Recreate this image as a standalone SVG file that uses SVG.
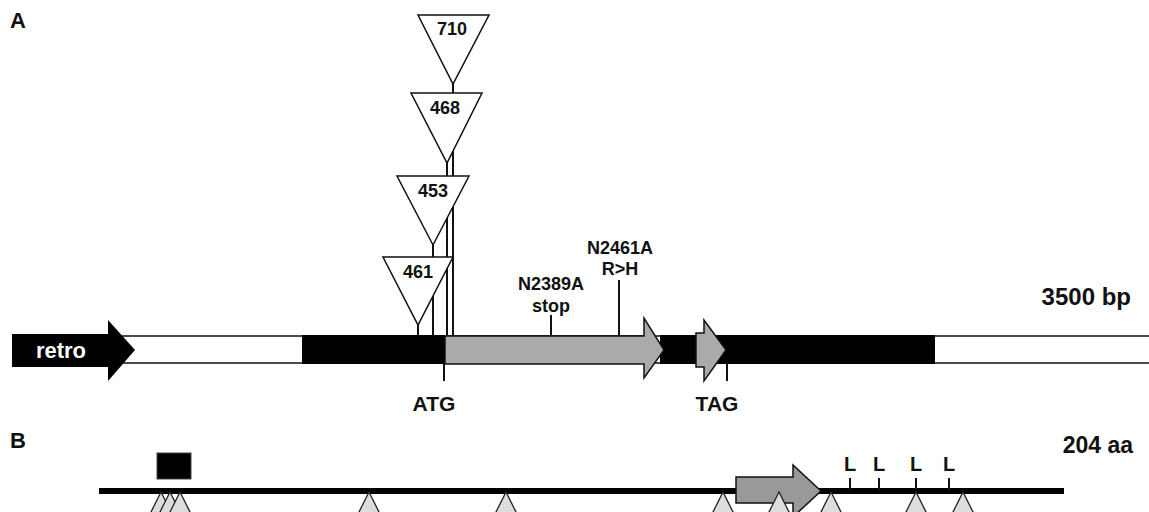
<svg xmlns="http://www.w3.org/2000/svg" width="1149" height="512" viewBox="0 0 1149 512">
<style>
text{font-family:"Liberation Sans",Arial,sans-serif;font-weight:bold;fill:#111;}
.num{font-size:18px;text-anchor:middle;}
.big{font-size:21px;text-anchor:middle;}
.mid{text-anchor:middle;}
.tri{fill:#fff;stroke:#111;stroke-width:1.5;}
.tick{stroke:#111;stroke-width:2;fill:none;}
.btri{fill:#ddd;stroke:#222;stroke-width:1.3;}
</style>
<rect width="1149" height="512" fill="#fff"/>
<text x="10" y="28" font-size="22">A</text>
<text x="10" y="448" font-size="22">B</text>

<g id="connectors">
  <line class="tick" x1="418" y1="320" x2="418" y2="336"/>
  <line class="tick" x1="433" y1="240" x2="433" y2="336"/>
  <line class="tick" x1="447" y1="160" x2="447" y2="336"/>
  <line class="tick" x1="453" y1="80" x2="453" y2="336"/>
  <line class="tick" x1="551" y1="315" x2="551" y2="336"/>
  <line class="tick" x1="619" y1="280" x2="619" y2="336"/>
  <line class="tick" x1="444" y1="363" x2="444" y2="381"/>
  <line class="tick" x1="727" y1="363" x2="727" y2="381"/>
</g>

<g id="gene-bar">
  <rect x="120" y="336" width="1040" height="27" fill="#fff" stroke="#111" stroke-width="1.5"/>
  <rect x="302" y="335" width="143" height="29" fill="#000"/>
  <rect x="660" y="335" width="275" height="29" fill="#000"/>
</g>

<g id="retro">
  <polygon points="12,334 108,334 108,320 135,350 108,381 108,367 12,367" fill="#000"/>
  <text x="61" y="358" font-size="22" class="mid" style="fill:#fff">retro</text>
</g>

<g id="orf1">
  <polygon points="445,336 644,336 644,318 664,350 644,378 644,364 445,364" fill="#aaa" stroke="#111" stroke-width="1.5"/>
</g>
<g id="orf2">
  <polygon points="696,333 704,333 704,320 726,350 704,381 704,367 696,367" fill="#aaa" stroke="#111" stroke-width="1.5"/>
</g>

<g id="ins710">
  <polygon class="tri" points="418,15 489,15 453,84"/>
  <text x="452" y="35" class="num">710</text>
</g>
<g id="ins468">
  <polygon class="tri" points="411,93 482,93 447,163"/>
  <text x="445" y="114" class="num">468</text>
</g>
<g id="ins453">
  <polygon class="tri" points="397,176 469,176 433,245"/>
  <text x="433" y="197" class="num">453</text>
</g>
<g id="ins461">
  <polygon class="tri" points="383,257 453,257 418,325"/>
  <text x="418" y="278" class="num">461</text>
</g>

<g id="labels-a">
  <text x="620" y="254" class="num">N2461A</text>
  <text x="620" y="275" class="num">R&gt;H</text>
  <text x="551" y="290" class="num">N2389A</text>
  <text x="551" y="312" class="num">stop</text>
  <text x="434" y="411" class="big">ATG</text>
  <text x="717" y="411" class="big">TAG</text>
  <text x="1131" y="305" font-size="24" text-anchor="end">3500 bp</text>
</g>

<g id="protein">
  <line x1="99" y1="491" x2="1064" y2="491" stroke="#000" stroke-width="6"/>
  <rect x="157" y="453" width="34" height="26" fill="#000" stroke="#444" stroke-width="1"/>
  <polygon points="736,477 793,477 793,465 821,491 793,517 793,503 736,503" fill="#999" stroke="#111" stroke-width="1.5"/>
  <line class="tick" x1="850" y1="478" x2="850" y2="491"/>
  <line class="tick" x1="879" y1="478" x2="879" y2="491"/>
  <line class="tick" x1="916" y1="478" x2="916" y2="491"/>
  <line class="tick" x1="949" y1="478" x2="949" y2="491"/>
  <text x="850" y="471" font-size="20" class="mid">L</text>
  <text x="879" y="471" font-size="20" class="mid">L</text>
  <text x="916" y="471" font-size="20" class="mid">L</text>
  <text x="949" y="471" font-size="20" class="mid">L</text>
  <text x="1133" y="453" font-size="23" text-anchor="end">204 aa</text>
</g>

<g id="sites">
  <polygon class="btri" points="161,492 150,514 172,514"/>
  <polygon class="btri" points="170,492 159,514 181,514"/>
  <polygon class="btri" points="180,492 169,514 191,514"/>
  <polygon class="btri" points="369,492 358,514 380,514"/>
  <polygon class="btri" points="506,492 495,514 517,514"/>
  <polygon class="btri" points="723,492 712,514 734,514"/>
  <polygon class="btri" points="779,492 768,514 790,514"/>
  <polygon class="btri" points="831,492 820,514 842,514"/>
  <polygon class="btri" points="916,492 905,514 927,514"/>
  <polygon class="btri" points="963,492 952,514 974,514"/>
</g>
</svg>
